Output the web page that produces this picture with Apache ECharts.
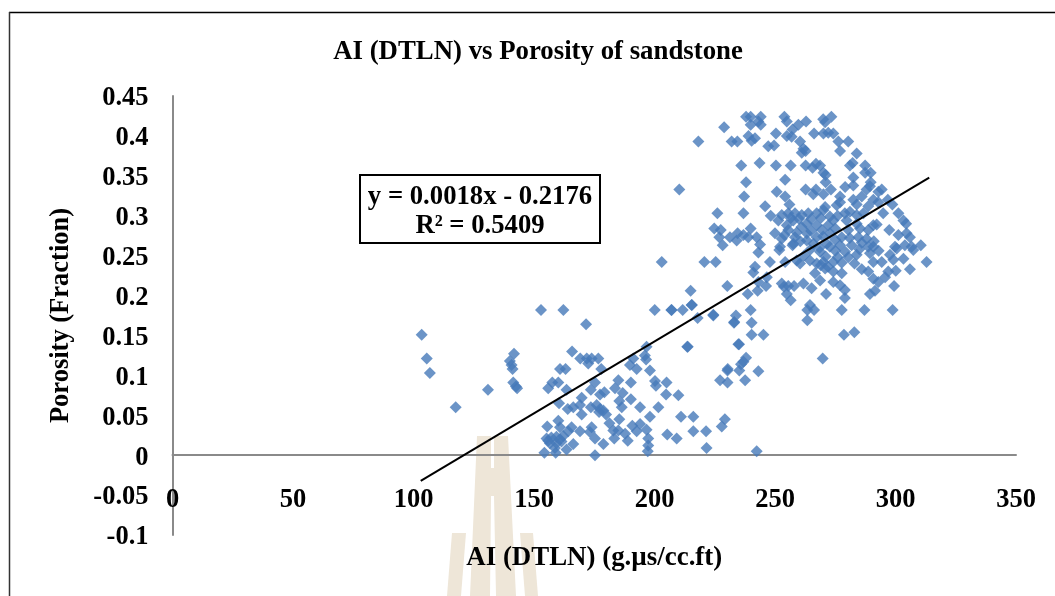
<!DOCTYPE html>
<html>
<head>
<meta charset="utf-8">
<title>AI (DTLN) vs Porosity of sandstone</title>
<script src="https://cdn.jsdelivr.net/npm/echarts@6/dist/echarts.min.js"></script>
<style>
  html, body { margin: 0; padding: 0; background: #fff; }
  #chart { width: 1055px; height: 596px; }
</style>
</head>
<body>
<div id="chart"></div>
<script>
// AI (DTLN), porosity pairs
var lowPoints = [
  [103.4,.151],[105.5,.121],[106.8,.103],[117.5,.06],[130.9,.082],[141.7,.127],[140,.118],[140.7,.113],[141.1,.108],[141.4,.091],[142.5,.086],[143,.084],
  [152.9,.182],[162.2,.182],[171.6,.164],[165.8,.13],[169.2,.121],[171.9,.121],[173.9,.121],[176.7,.121],[172.5,.115],[160.8,.108],[163.1,.108],[177.9,.108],
  [175.3,.091],[173.6,.082],[155.9,.084],[157.6,.091],[160.1,.091],[163.5,.082],[169.8,.072],[177.4,.076],[179.2,.079],[160.4,.065],[164,.058],[166.3,.06],
  [169.1,.063],[169.8,.051],[173.6,.06],[176,.063],[177.4,.058],[178.8,.056],[179.9,.051],[177,.054],[185,.094],[183.6,.084],[186.8,.078],[190.2,.091],
  [190.2,.07],[185.4,.068],[186.4,.06],[194,.06],[185.4,.045],[181.3,.04],[182.9,.031],[185,.031],[187.8,.027],[190.8,.037],[194,.039],[192.6,.03],
  [196.7,.032],[198.1,.048],[201.6,.06],[204.8,.076],[209.9,.075],[205,.091],[200.2,.093],[200.6,.087],[198.1,.106],[191.2,.121],[196,.125],[196.5,.12],
  [196.7,.136],[189.8,.113],[192.6,.108],[213.8,.136],[211,.048],[216.1,.048],[229.2,.045],[227.9,.036],[216.1,.03],[221.4,.03],[221.6,.009],[205.3,.026],
  [209.2,.021],[197.4,.021],[197.4,.012],[197.2,.005],[188.9,.018],[183.3,.021],[178.8,.014],[175.3,.021],[175.3,0],[173.9,.035],[173.2,.029],[169.1,.03],
  [166.3,.014],[163.5,.007],[165.6,.035],[164.2,.03],[155.5,.036],[160.1,.043],[160.8,.035],[154.3,.003],[159,.003],[155.2,.021],[157.2,.022],[159.3,.023],
  [162.1,.024],[156.6,.015],[159.3,.015],[161.4,.017],[158.7,.009],[160.8,.02],[155.9,.018],[242.4,.005],[237.6,.094],[230.3,.106],[227.2,.094],[230.3,.091],[235.2,.106]
];
var midPoints = [
  [200.1,.182],[207.1,.182],[211.7,.182],[215.5,.188],[217.9,.172],[224.4,.176],[233.1,.167],[233.8,.175],[234.8,.139],[215,.206],[215.4,.188],[207,.182],
  [224.4,.175],[233,.166],[239.9,.182],[240.3,.166],[240.3,.151],[245.2,.151],[235.1,.139],[213.6,.136],[263.4,.169],[277.7,.182],[287.1,.182],[298.8,.182],
  [278.6,.151],[282.9,.154],[269.8,.121],[238,.122],[236.9,.117],[235.9,.114],[230.4,.108],[243.1,.105],[264.5,.188],[263.4,.182],[266.2,.182],[256.5,.194],
  [279,.197],[220.7,.242],[225.4,.242],[203,.242],[230.2,.212],[246.3,.212],[242.8,.206],[238.7,.202],[246.6,.223],[243.1,.217]
];
var highPoints = [
  [218.2,.393],[210.3,.333],[228.9,.411],[238,.424],[239.9,.424],[244.1,.424],[239.9,.414],[243.1,.418],[244.1,.414],[253.9,.424],[254.9,.418],[259.7,.414],
  [262.9,.418],[270,.421],[273.4,.424],[270.8,.417],[250.4,.403],[254.9,.4],[257.3,.408],[256.9,.399],[266.2,.403],[270.1,.403],[272.1,.404],[274.2,.403],
  [239,.4],[240.3,.394],[241.7,.397],[232,.393],[234.4,.393],[247.2,.387],[249.6,.388],[260.4,.393],[276.3,.393],[280.4,.393],[277,.381],[261.8,.384],
  [261.1,.379],[262.7,.381],[283.9,.378],[236,.363],[243.6,.366],[250.4,.363],[256.5,.363],[262.7,.363],[265.6,.36],[268.7,.363],[267,.365],[282.2,.366],
  [281.1,.363],[287.4,.363],[287.4,.354],[289.7,.354],[270.1,.354],[271,.351],[271,.342],[282.5,.348],[238,.342],[254.2,.345],[289.7,.342],[279.1,.336],
  [282.5,.338],[288,.333],[289.4,.337],[292.9,.33],[294.3,.333],[250.7,.33],[262.7,.333],[267,.333],[265.9,.327],[273.2,.333],[270.1,.327],[254.2,.324],
  [237.2,.324],[277,.324],[286,.324],[282.5,.32],[290.8,.32],[292.9,.317],[296.8,.32],[298.7,.314],[256,.314],[275.6,.313],[277,.317],[245.9,.312],
  [283.9,.314],[288.7,.312],[270.8,.311],[226.1,.303],[236.9,.303],[248.2,.3],[294.9,.303],[301.2,.303],[303.3,.294],[304.4,.29],[297.4,.282],[301.2,.276],
  [304.6,.278],[306,.273],[224.8,.284],[227.5,.282],[226.9,.273],[228.3,.263],[231.3,.273],[234.1,.269],[234.5,.278],[236.9,.276],[239.9,.284],[238.9,.273],
  [242.4,.273],[243.8,.264],[250,.278],[251.4,.294],[252.8,.301],[255.5,.303],[258.3,.303],[257.6,.294],[261.1,.301],[263.8,.303],[267.3,.303],[270.1,.307],
  [272.8,.299],[274.2,.294],[254.9,.288],[263.2,.29],[267.3,.288],[272.1,.288],[279,.303],[281.1,.305],[283.9,.301],[286.7,.303],[279.7,.294],[283.9,.29],
  [285.3,.284],[290.8,.288],[292.2,.289],[288.7,.282],[252.8,.271],[255.5,.282],[258.3,.273],[263.2,.278],[267.3,.273],[272.8,.278],[277.7,.273],[280.4,.282],
  [284.6,.273],[288,.271],[257.6,.265],[252.1,.261],[263.2,.269],[271.5,.265],[277,.263],[281.8,.263],[288.7,.261],[290.8,.261],[299.8,.261],[303.9,.263],
  [306.7,.261],[310.5,.263],[300.5,.259],[307.4,.257],[243.1,.254],[251.8,.257],[257.3,.263],[264.5,.257],[268.7,.255],[272.8,.261],[279.1,.255],[283.9,.251],
  [289.4,.253],[297.7,.251],[299.1,.245],[303.3,.246],[312.9,.242],[247.9,.242],[254.2,.242],[259,.244],[260.4,.24],[264.5,.244],[267.3,.24],[270.1,.242],
  [274.2,.242],[277.7,.241],[280.4,.248],[290.8,.242],[294.3,.242],[286,.233],[288.7,.23],[297,.23],[300.1,.231],[306,.233],[241.7,.236],[241,.229],
  [266.6,.228],[270.8,.234],[274.2,.23],[277.7,.228],[290.8,.221],[292.9,.217],[295.7,.223],[268.7,.219],[274.2,.217],[252.8,.215],[255.5,.212],[257.9,.212],
  [253.7,.211],[261.8,.215],[265.2,.209],[277,.213],[279,.207],[271.2,.202],[254.9,.202],[289.4,.202],[291.5,.206],[299.4,.212],
  [256.5,.297],[260,.296],[265,.296],[269,.297],[276,.3],[261,.286],[265,.281],[269.5,.282],[275,.284],[259,.279],[254,.276],[270,.274],[275,.27],[260.5,.268],
  [266,.265],[268.5,.26],[275,.256],[262,.25],[271,.249],[276,.248],[269,.238],[272,.236],[281,.272],[286,.266],[291,.268],[285,.258],[293,.256],[283,.24]
];
var trendLine = [[103, -0.0322], [314, 0.3476]];
var xTicks = { min: 0, max: 350, interval: 50 };
var yTicks = { min: -0.1, max: 0.45, interval: 0.05 };
var trendLabels = ['y = 0.0018x - 0.2176', 'R² = 0.5409'];

var serif = '"Liberation Serif", "Times New Roman", serif';
var watermarkColor = '#eee6d8';

function poly(points, color, z) {
  return { type: 'polygon', silent: true, z: z, shape: { points: points }, style: { fill: color } };
}

var chart = echarts.init(document.getElementById('chart'));
chart.setOption({
  animation: false,
  backgroundColor: '#fff',
  title: {
    text: 'AI (DTLN) vs Porosity of sandstone',
    left: 533, top: 34, textAlign: 'center',
    textStyle: { fontFamily: serif, fontSize: 26.8, fontWeight: 'bold', color: '#000' }
  },
  grid: { left: 172.5, right: 39, top: 96, bottom: 61, outerBoundsMode: 'none' },
  xAxis: {
    type: 'value',
    min: xTicks.min, max: xTicks.max, interval: xTicks.interval,
    splitLine: { show: false },
    axisTick: { show: false },
    axisLine: { onZero: true, lineStyle: { color: '#8a8a8a', width: 2 } },
    // labels stay anchored to the grid bottom, so pull them up to the -0.05 level
    axisLabel: { margin: -48, fontFamily: serif, fontSize: 26.5, fontWeight: 'bold', color: '#000' },
    name: 'AI (DTLN) (g.µs/cc.ft)',
    nameLocation: 'middle', nameGap: 10, nameMoveOverlap: false,
    nameTextStyle: { fontFamily: serif, fontSize: 26.9, fontWeight: 'bold', color: '#000' }
  },
  yAxis: {
    type: 'value',
    min: yTicks.min, max: yTicks.max, interval: yTicks.interval,
    splitLine: { show: false },
    axisTick: { show: false },
    axisLine: { onZero: true, lineStyle: { color: '#8a8a8a', width: 2 } },
    // top align with a short line box nudges the digits just below the tick
    axisLabel: { margin: 24, verticalAlign: 'top', lineHeight: 5, fontFamily: serif, fontSize: 26.5, fontWeight: 'bold', color: '#000' },
    name: 'Porosity (Fraction)',
    nameLocation: 'middle', nameGap: 98, nameRotate: 90, nameMoveOverlap: false,
    nameTextStyle: { fontFamily: serif, fontSize: 26.5, fontWeight: 'bold', color: '#000' }
  },
  series: [
    {
      type: 'scatter',
      data: lowPoints.concat(midPoints, highPoints),
      symbol: 'diamond',
      symbolSize: 12,
      itemStyle: { color: '#4679b9' },
      z: 3
    },
    {
      type: 'line',
      data: trendLine,
      symbol: 'none',
      lineStyle: { color: '#000', width: 2 },
      z: 4
    }
  ],
  graphic: [
    // page frame
    { type: 'line', silent: true, shape: { x1: 9, y1: 12.5, x2: 1055, y2: 12.5 }, style: { stroke: '#000', lineWidth: 1.5 } },
    { type: 'line', silent: true, shape: { x1: 9.5, y1: 12, x2: 9.5, y2: 596 }, style: { stroke: '#333', lineWidth: 1.5 } },
    // faint watermark behind the plot
    poly([[477,436],[491,436],[491,468],[494,468],[494,436],[508,436],[516,596],[496,596],[494,496],[491,496],[490,596],[470,596]], watermarkColor, 0),
    poly([[452,533],[466,533],[461,596],[447,596]], watermarkColor, 0),
    poly([[520,533],[533,533],[538,596],[525,596]], watermarkColor, 0),
    // trendline equation box
    {
      type: 'rect', z: 10, silent: true,
      shape: { x: 360, y: 175, width: 240, height: 68 },
      style: { fill: '#fff', stroke: '#000', lineWidth: 2 }
    },
    {
      type: 'text', z: 11, silent: true, x: 480, y: 197,
      style: { text: trendLabels[0], fill: '#000', font: 'bold 26.7px ' + serif, align: 'center', verticalAlign: 'middle' }
    },
    {
      type: 'text', z: 11, silent: true, x: 480, y: 226,
      style: { text: trendLabels[1], fill: '#000', font: 'bold 26.7px ' + serif, align: 'center', verticalAlign: 'middle' }
    }
  ]
});
</script>
</body>
</html>
